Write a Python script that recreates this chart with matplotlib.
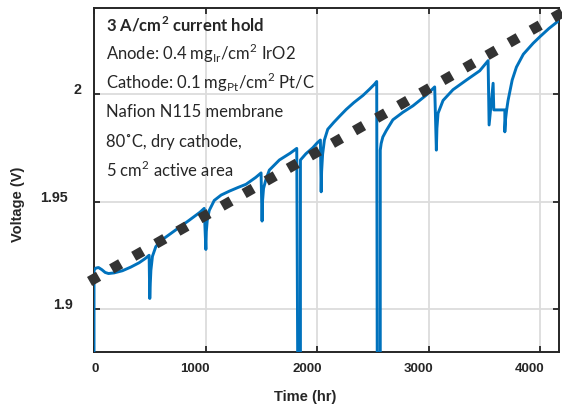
import matplotlib
matplotlib.use("Agg")
import matplotlib.pyplot as plt
from matplotlib.transforms import offset_copy

# cell voltage during the 3 A/cm2 hold
time_hr = [
    0, 0, 15, 40, 70, 100, 130, 180, 255, 330, 404, 460, 494,
    500, 503, 510, 524, 554, 600, 704, 854, 950, 988,
    1003, 1007, 1015, 1033, 1078, 1140, 1213, 1290, 1363, 1450, 1498,
    1507, 1511, 1520, 1540, 1572, 1662, 1760, 1818,
    1827, 1851, 1851, 1900, 1962, 2000, 2030,
    2037, 2041, 2050, 2066, 2096, 2150, 2201, 2261, 2330, 2411, 2470, 2516, 2535,
    2540, 2567, 2567, 2575, 2590, 2621, 2680, 2770, 2860, 2980, 3055,
    3070, 3075, 3085, 3130, 3219, 3340, 3459, 3534,
    3543, 3579, 3585, 3684, 3684, 3690, 3700, 3713, 3750, 3788, 3850, 3938,
    4000, 4080, 4170,
]
voltage_v = [
    1.870, 1.9180, 1.9190, 1.9193, 1.9183, 1.9170, 1.9165, 1.9168, 1.9178, 1.9195, 1.9215, 1.9235, 1.9250,
    1.9049, 1.9100, 1.9180, 1.9245, 1.9290, 1.9318, 1.9357, 1.9413, 1.9450, 1.9468,
    1.9277, 1.9360, 1.9410, 1.9458, 1.9505, 1.9530, 1.9548, 1.9565, 1.9580, 1.9612, 1.9633,
    1.9409, 1.9500, 1.9560, 1.9600, 1.9646, 1.9693, 1.9725, 1.9747,
    1.870, 1.870, 1.9693, 1.9722, 1.9750, 1.9772, 1.9786,
    1.9545, 1.9640, 1.9720, 1.9786, 1.9836, 1.9868, 1.9896, 1.9928, 1.9960, 1.9993, 2.0022, 2.0046, 2.0058,
    1.870, 1.870, 1.9739, 1.9770, 1.9800, 1.9830, 1.9880, 1.9915, 1.9945, 1.9995, 2.0033,
    1.9739, 1.9840, 1.9910, 1.9970, 2.0020, 2.0065, 2.0108, 2.0155,
    1.9856, 2.0050, 1.9926, 1.9926, 1.9824, 1.9880, 1.9925, 1.9970, 2.0065, 2.0125, 2.0185, 2.0236,
    2.0267, 2.0305, 2.0342,
]

# linear degradation trend
trend_hr = [0, 4170]
trend_v = [1.914, 2.037]

x_ticks = [0, 1000, 2000, 3000, 4000]
x_tick_labels = ["0", "1000", "2000", "3000", "4000"]
y_ticks = [1.9, 1.95, 2.0]
y_tick_labels = ["1.9", "1.95", "2"]
y_label_shift_px = [21, 25.7, 12.3]

notes = [
    r"3 A/cm$^{\mathregular{2}}$ current hold",
    r"Anode: 0.4 mg$_{\mathregular{Ir}}$/cm$^{\mathregular{2}}$ IrO2",
    r"Cathode: 0.1 mg$_{\mathregular{Pt}}$/cm$^{\mathregular{2}}$ Pt/C",
    "Nafion N115 membrane",
    "80˚C, dry cathode,",
    r"5 cm$^{\mathregular{2}}$ active area",
]

DPI = 100
fig = plt.figure(figsize=(5.62, 4.04), dpi=DPI)
ax = fig.add_axes([0.1673, 0.1287, 0.8274, 0.8515])

ax.plot(time_hr, voltage_v, color="#0072BD", lw=2.1, zorder=3)
# square dots: zero-length dashes with projecting caps
trend_lw = 7.4
ax.plot(trend_hr, trend_v, color="#333333", lw=trend_lw,
        linestyle=(0, (0.01, 25.3 * 72 / DPI / trend_lw)), dash_capstyle="projecting",
        clip_on=False, zorder=4)

ax.set_xlim(0, 4170)
ax.set_ylim(1.88, 2.04)
ax.set_xticks(x_ticks)
ax.set_yticks(y_ticks)
ax.set_xticklabels([])
ax.set_yticklabels([])
ax.tick_params(direction="in", length=4, width=1.3, color="#262626",
               top=True, right=True)
ax.grid(True, color="#dcdcdc", lw=1.3)
ax.set_axisbelow(True)
for sp in ax.spines.values():
    sp.set_color("#262626")
    sp.set_linewidth(1.4)

tick_font = dict(family="Liberation Sans", weight="bold", color="#262626")
xtr = offset_copy(ax.get_xaxis_transform(), fig=fig, x=4.5 * 72 / DPI, y=-10.5 * 72 / DPI,
                  units="points")
for t, lab in zip(x_ticks, x_tick_labels):
    ax.text(t, 0, lab, transform=xtr, ha="right", va="top", size=9.5, **tick_font)
for v, lab, dx in zip(y_ticks, y_tick_labels, y_label_shift_px):
    ytr = offset_copy(ax.get_yaxis_transform(), fig=fig, x=-dx * 72 / DPI,
                      y=4 * 72 / DPI, units="points")
    ax.text(0, v, lab, transform=ytr, ha="right", va="center", size=10.3, **tick_font)

label_font = dict(family="Liberation Sans", weight="bold", size=10.5, color="#262626")
ax.set_xlabel("Time (hr)", **label_font)
ax.set_ylabel("Voltage (V)", **label_font)
ax.xaxis.set_label_coords(0.454, -0.11)
ax.yaxis.set_label_coords(-0.148, 0.43)

note_y_px = [25, 53, 82, 112, 142, 170]
for i, (txt, py) in enumerate(zip(notes, note_y_px)):
    ax.text(0.0258, (352 - py) / 344, txt, transform=ax.transAxes,
            family=["Lato", "DejaVu Sans"], size=12, color="#262626",
            weight="bold" if i == 0 else "normal", ha="left", va="center",
            zorder=5)

fig.savefig("out.png", dpi=DPI)
